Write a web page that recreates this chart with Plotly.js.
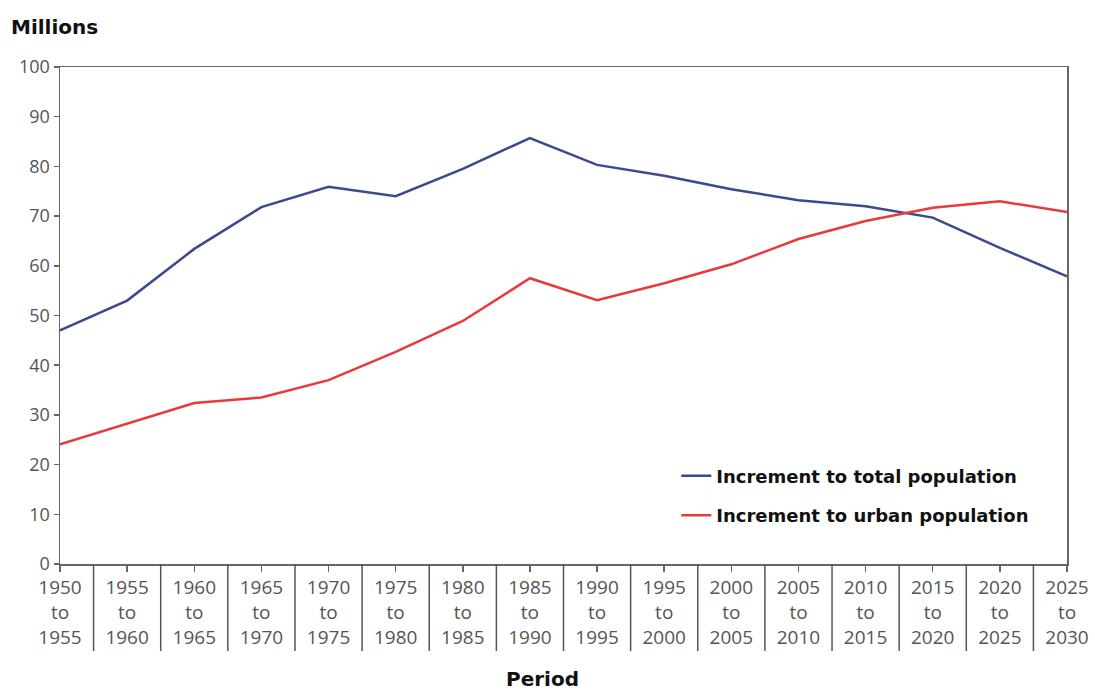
<!DOCTYPE html>
<html>
<head>
<meta charset="utf-8">
<script src="https://cdn.plot.ly/plotly-3.0.1.min.js"></script>
<style>html,body{margin:0;padding:0;background:#fff;}#chart{width:1095px;height:693px;}</style>
</head>
<body>
<div id="chart"></div>
<script>
var startYears = ["1950","1955","1960","1965","1970","1975","1980","1985","1990","1995","2000","2005","2010","2015","2020","2025"];
var endYears   = ["1955","1960","1965","1970","1975","1980","1985","1990","1995","2000","2005","2010","2015","2020","2025","2030"];
var totalIncrement = [47, 53, 63.4, 71.8, 75.9, 74, 79.5, 85.7, 80.3, 78.1, 75.4, 73.2, 72, 69.7, 63.6, 57.9];
var urbanIncrement = [24.1, 28.2, 32.4, 33.5, 37, 42.7, 48.9, 57.5, 53.1, 56.5, 60.3, 65.4, 69, 71.7, 73, 70.8];
var seriesNames = ["Increment to total population", "Increment to urban population"];

var categories = startYears.map(function(s, i){ return s + "-" + endYears[i]; });
var tickText = startYears.map(function(s, i){ return s + "<br>to<br>" + endYears[i]; });

var traces = [
  {x: categories, y: totalIncrement, type: "scatter", mode: "lines", name: seriesNames[0],
   legendgroup: "a", line: {color: "#3b4a8e", width: 2.5}},
  {x: categories, y: urbanIncrement, type: "scatter", mode: "lines", name: seriesNames[1],
   legendgroup: "b", line: {color: "#e8393c", width: 2.5}}
];

var shapes = [];
for (var i = 0; i < categories.length - 1; i++) {
  shapes.push({type: "line", xref: "x", yref: "paper", x0: i + 0.5, x1: i + 0.5, y0: 0, y1: -0.175,
               line: {color: "#555", width: 1.5}});
}

var layout = {
  width: 1095, height: 693,
  margin: {l: 60, r: 28, t: 67, b: 129},
  paper_bgcolor: "#fff", plot_bgcolor: "#fff",
  showlegend: true,
  legend: {x: 0.612, y: 0.214, xanchor: "left", yanchor: "top", traceorder: "grouped", tracegroupgap: 13,
           font: {family: "DejaVu Sans", size: 18, color: "#111", weight: "bold"}, bgcolor: "rgba(0,0,0,0)"},
  xaxis: {
    type: "category", range: [0, categories.length - 1],
    tickmode: "array", tickvals: categories, ticktext: tickText,
    ticks: "outside", ticklen: 6, tickcolor: "#666", tickwidth: 1.5,
    showline: true, linecolor: "#666", linewidth: 1.5, mirror: true,
    showgrid: false, zeroline: false,
    tickfont: {family: "Open Sans", size: 19, color: "#555"}
  },
  yaxis: {
    range: [0, 100], dtick: 10, tick0: 0,
    ticks: "outside", ticklen: 5, tickcolor: "#666", tickwidth: 1.5,
    showline: true, linecolor: "#666", linewidth: 1.5, mirror: true,
    showgrid: false, zeroline: false,
    tickfont: {family: "Open Sans", size: 18, color: "#555"}
  },
  shapes: shapes,
  annotations: [
    {text: "Millions", xref: "paper", yref: "paper", x: 0, y: 1, xshift: -51, yshift: 40,
     xanchor: "left", yanchor: "middle", showarrow: false,
     font: {family: "DejaVu Sans", size: 20, color: "#111", weight: "bold"}},
    {text: "Period", xref: "paper", yref: "paper", x: 0.479, y: 0, yshift: -115,
     xanchor: "center", yanchor: "middle", showarrow: false,
     font: {family: "DejaVu Sans", size: 20, color: "#111", weight: "bold"}}
  ]
};

Plotly.newPlot("chart", traces, layout, {displayModeBar: false, staticPlot: true});
</script>
</body>
</html>
